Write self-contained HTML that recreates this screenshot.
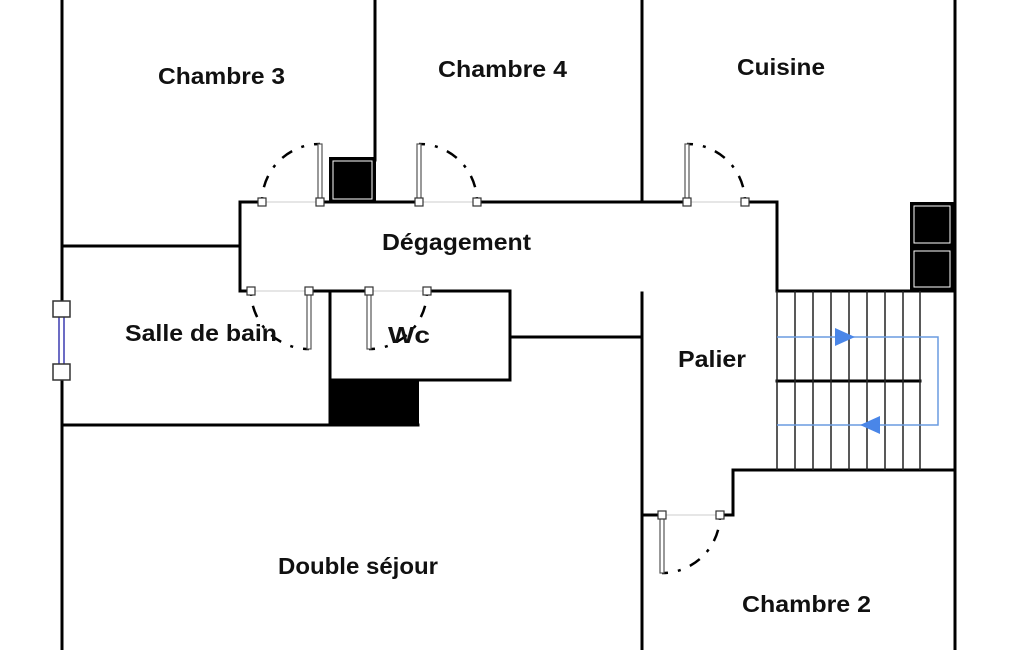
<!DOCTYPE html>
<html><head><meta charset="utf-8"><style>
html,body{margin:0;padding:0;background:#fff;}
svg{display:block}
text{font-family:"Liberation Sans",Arial,sans-serif;font-size:23px;font-weight:bold;fill:#111;}
</style></head><body>
<svg width="1025" height="650" viewBox="0 0 1025 650" xmlns="http://www.w3.org/2000/svg">
<rect width="1025" height="650" fill="#fff"/>
<g stroke="#000" stroke-width="3" fill="none" stroke-linecap="square">
<line x1="62" y1="0" x2="62" y2="300"/>
<line x1="62" y1="381" x2="62" y2="650"/>
<line x1="955" y1="0" x2="955" y2="650"/>
<line x1="375" y1="0" x2="375" y2="160"/>
<line x1="642" y1="0" x2="642" y2="202"/>
<line x1="240" y1="202" x2="262" y2="202"/>
<line x1="320" y1="202" x2="419" y2="202"/>
<line x1="477" y1="202" x2="687" y2="202"/>
<line x1="745" y1="202" x2="777" y2="202"/>
<line x1="240" y1="202" x2="240" y2="291"/>
<line x1="62" y1="246" x2="240" y2="246"/>
<line x1="240" y1="291" x2="251" y2="291"/>
<line x1="309" y1="291" x2="369" y2="291"/>
<line x1="427" y1="291" x2="510" y2="291"/>
<line x1="777" y1="202" x2="777" y2="291"/>
<line x1="330" y1="291" x2="330" y2="425"/>
<line x1="510" y1="291" x2="510" y2="380"/>
<line x1="330" y1="380" x2="510" y2="380"/>
<line x1="510" y1="337" x2="642" y2="337"/>
<line x1="642" y1="293" x2="642" y2="650"/>
<line x1="62" y1="425" x2="418" y2="425"/>
<line x1="777" y1="291" x2="955" y2="291"/>
<line x1="777" y1="381" x2="920" y2="381"/>
<line x1="733" y1="470" x2="955" y2="470"/>
<line x1="733" y1="470" x2="733" y2="515"/>
<line x1="720" y1="515" x2="733" y2="515"/>
<line x1="642" y1="515" x2="662" y2="515"/>
</g>
<g stroke="#222" stroke-width="1.5">
<line x1="777" y1="291" x2="777" y2="470"/>
<line x1="795" y1="291" x2="795" y2="470"/>
<line x1="813" y1="291" x2="813" y2="470"/>
<line x1="831" y1="291" x2="831" y2="470"/>
<line x1="849" y1="291" x2="849" y2="470"/>
<line x1="867" y1="291" x2="867" y2="470"/>
<line x1="885" y1="291" x2="885" y2="470"/>
<line x1="903" y1="291" x2="903" y2="470"/>
<line x1="920" y1="291" x2="920" y2="470"/>
</g>
<g fill="#000" stroke="#000" stroke-width="2">
<rect x="330" y="158" width="45" height="44"/>
<rect x="911" y="203" width="42" height="43"/>
<rect x="911" y="248" width="42" height="42"/>
<rect x="330" y="381" width="88" height="44"/>
</g>
<g fill="none" stroke="#fff" stroke-width="1">
<rect x="333" y="161" width="39" height="38"/>
<rect x="914" y="206" width="36" height="37"/>
<rect x="914" y="251" width="36" height="36"/>
</g>
<g stroke="#6a9be0" stroke-width="1.5" fill="none">
<polyline points="777,337 938,337 938,425 777,425"/>
</g>
<polygon points="835,328 855,337 835,346" fill="#4a86e8"/>
<polygon points="880,416 860,425 880,434" fill="#4a86e8"/>
<g stroke="#ccc" stroke-width="1">
<line x1="262" y1="202" x2="320" y2="202"/>
<line x1="419" y1="202" x2="477" y2="202"/>
<line x1="687" y1="202" x2="745" y2="202"/>
<line x1="251" y1="291" x2="309" y2="291"/>
<line x1="369" y1="291" x2="427" y2="291"/>
<line x1="662" y1="515" x2="720" y2="515"/>
</g>
<g stroke="#000" stroke-width="2.5" fill="none" stroke-dasharray="3,10,12,10">
<path d="M262,200 A58,58 0 0 1 320,144"/>
<path d="M477,200 A58,58 0 0 0 419,144"/>
<path d="M745,200 A58,58 0 0 0 687,144"/>
<path d="M251,293 A58,58 0 0 0 309,349"/>
<path d="M427,293 A58,58 0 0 1 369,349"/>
<path d="M720,517 A58,58 0 0 1 662,573"/>
</g>
<g fill="#fff" stroke="#555" stroke-width="1.2">
<rect x="318" y="144" width="4" height="58"/>
<rect x="417" y="144" width="4" height="58"/>
<rect x="685" y="144" width="4" height="58"/>
<rect x="307" y="291" width="4" height="58"/>
<rect x="367" y="291" width="4" height="58"/>
<rect x="660" y="515" width="4" height="58"/>
</g>
<g fill="#fff" stroke="#333" stroke-width="1.2">
<rect x="258" y="198" width="8" height="8"/><rect x="316" y="198" width="8" height="8"/>
<rect x="415" y="198" width="8" height="8"/><rect x="473" y="198" width="8" height="8"/>
<rect x="683" y="198" width="8" height="8"/><rect x="741" y="198" width="8" height="8"/>
<rect x="247" y="287" width="8" height="8"/><rect x="305" y="287" width="8" height="8"/>
<rect x="365" y="287" width="8" height="8"/><rect x="423" y="287" width="8" height="8"/>
<rect x="658" y="511" width="8" height="8"/><rect x="716" y="511" width="8" height="8"/>
</g>
<g stroke="#3b3bb0" stroke-width="1.5" fill="#fff">
<line x1="59" y1="310" x2="59" y2="372"/>
<line x1="64" y1="310" x2="64" y2="372"/>
<rect x="53" y="301" width="17" height="16" stroke="#333"/>
<rect x="53" y="364" width="17" height="16" stroke="#333"/>
</g>
<text x="158" y="84" textLength="127" lengthAdjust="spacingAndGlyphs">Chambre 3</text>
<text x="438" y="77" textLength="129" lengthAdjust="spacingAndGlyphs">Chambre 4</text>
<text x="737" y="75" textLength="88" lengthAdjust="spacingAndGlyphs">Cuisine</text>
<text x="382" y="250" textLength="149" lengthAdjust="spacingAndGlyphs">Dégagement</text>
<text x="125" y="341" textLength="152" lengthAdjust="spacingAndGlyphs">Salle de bain</text>
<text x="388" y="343" textLength="42" lengthAdjust="spacingAndGlyphs">Wc</text>
<text x="678" y="367" textLength="68" lengthAdjust="spacingAndGlyphs">Palier</text>
<text x="278" y="574" textLength="160" lengthAdjust="spacingAndGlyphs">Double séjour</text>
<text x="742" y="612" textLength="129" lengthAdjust="spacingAndGlyphs">Chambre 2</text>
</svg>
</body></html>
